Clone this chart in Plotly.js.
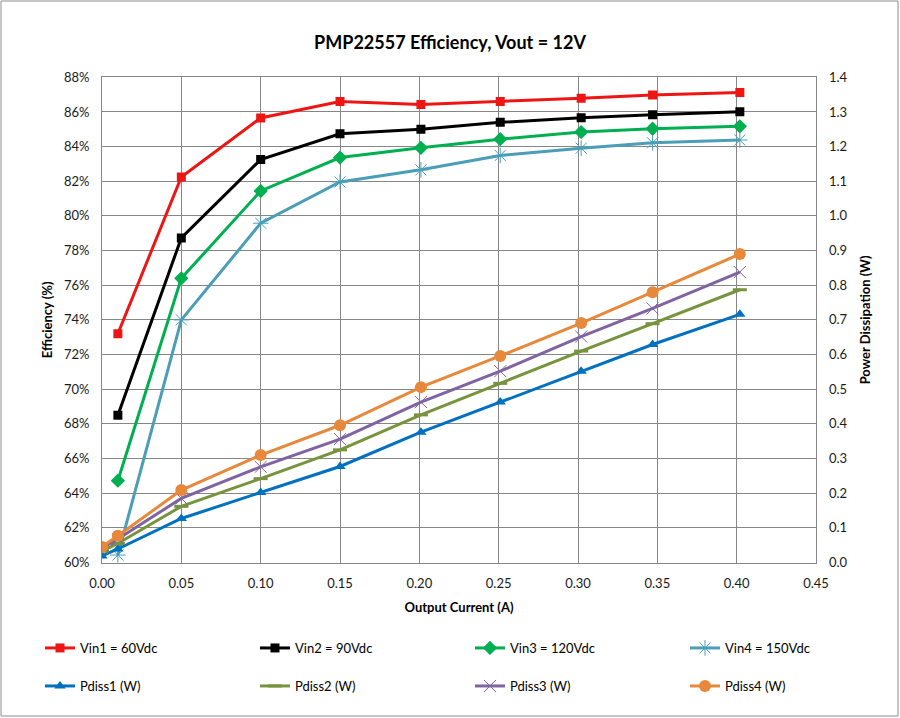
<!DOCTYPE html>
<html>
<head>
<meta charset="utf-8">
<script src="https://cdn.plot.ly/plotly-3.0.1.min.js"></script>
<style>
html,body{margin:0;padding:0;background:#fff;}
#chart{width:900px;height:718px;}
</style>
</head>
<body>
<div id="chart"></div>
<script>
// ---- data ----
var currentEff = [0.01, 0.05, 0.10, 0.15, 0.201, 0.251, 0.302, 0.347, 0.402];
var currentPd  = [0.0, 0.01, 0.05, 0.10, 0.15, 0.201, 0.251, 0.302, 0.347, 0.402];

var vin1Eff = [73.2, 82.25, 85.65, 86.6, 86.43, 86.6, 86.79, 86.98, 87.13];
var vin2Eff = [68.5, 78.73, 83.25, 84.74, 85.0, 85.4, 85.66, 85.84, 86.01];
var vin3Eff = [64.72, 76.4, 81.44, 83.37, 83.93, 84.43, 84.84, 85.03, 85.17];
var vin4Eff = [60.43, 74.0, 79.58, 81.96, 82.66, 83.49, 83.91, 84.22, 84.38];

var pdiss1 = [0.019, 0.039, 0.127, 0.202, 0.277, 0.376, 0.463, 0.552, 0.629, 0.716];
var pdiss2 = [0.033, 0.055, 0.162, 0.242, 0.325, 0.426, 0.517, 0.610, 0.689, 0.787];
var pdiss3 = [0.041, 0.068, 0.185, 0.276, 0.356, 0.463, 0.552, 0.652, 0.733, 0.838];
var pdiss4 = [0.045, 0.077, 0.209, 0.310, 0.396, 0.506, 0.596, 0.691, 0.780, 0.890];

var effNames = ['Vin1 = 60Vdc', 'Vin2 = 90Vdc', 'Vin3 = 120Vdc', 'Vin4 = 150Vdc'];
var pdNames  = ['Pdiss1 (W)', 'Pdiss2 (W)', 'Pdiss3 (W)', 'Pdiss4 (W)'];

var xTickVals = [0, 0.05, 0.10, 0.15, 0.20, 0.25, 0.30, 0.35, 0.40, 0.45];
var yTickVals = [60, 62, 64, 66, 68, 70, 72, 74, 76, 78, 80, 82, 84, 86, 88];
var yTickText = ['60%', '62%', '64%', '66%', '68%', '70%', '72%', '74%', '76%', '78%', '80%', '82%', '84%', '86%', '88%'];
var y2TickVals = [0, 0.1, 0.2, 0.3, 0.4, 0.5, 0.6, 0.7, 0.8, 0.9, 1.0, 1.1, 1.2, 1.3, 1.4];

// ---- styles ----
var FONT = 'Lato, "Liberation Sans", sans-serif';
var effStyles = [
  {color:'#EE1515', symbol:'square', size:9, lw:0},
  {color:'#000000', symbol:'square', size:9, lw:0},
  {color:'#00B050', symbol:'diamond', size:11, lw:0},
  {color:'#4A9EB8', symbol:'asterisk-open', size:13, lw:1}
];
var pdStyles = [
  {color:'#0070C0', symbol:'triangle-up', size:10, lw:0},
  {color:'#77933C', symbol:'line-ew-open', size:10, lw:3},
  {color:'#8064A2', symbol:'x-thin-open', size:12, lw:1},
  {color:'#E8883A', symbol:'circle', size:12, lw:0}
];

function mk(x, y, name, st, yaxis, legend) {
  return {
    type:'scatter', mode:'lines+markers', x:x, y:y, name:name,
    yaxis:yaxis, legend:legend,
    line:{color:st.color, width:3},
    marker:{color:st.color, symbol:st.symbol, size:st.size, line:{color:st.color, width:st.lw}},
    hoverinfo:'x+y+name'
  };
}

var effSeries = [vin1Eff, vin2Eff, vin3Eff, vin4Eff];
var pdSeries = [pdiss1, pdiss2, pdiss3, pdiss4];
var traces = [];
for (var i = 0; i < 4; i++) traces.push(mk(currentEff, effSeries[i], effNames[i], effStyles[i], 'y', 'legend'));
for (var j = 0; j < 4; j++) traces.push(mk(currentPd, pdSeries[j], pdNames[j], pdStyles[j], 'y2', 'legend2'));

var W = 900, H = 718;
var plotL = 102, plotR = 816, plotT = 77.3, plotB = 562.5;
var gridCol = '#868686';
var tickFont = {family:FONT, size:13, color:'#1a1a1a'};
var axTitleFont = {family:FONT, size:13, color:'#000', weight:'bold'};

var layout = {
  width:W, height:H,
  margin:{l:0, r:0, t:0, b:0},
  paper_bgcolor:'#fff', plot_bgcolor:'#fff',
  showlegend:true,
  title:{
    text:'<b>PMP22557 Efficiency, Vout = 12V</b>',
    font:{family:FONT, size:18, color:'#000'},
    x:0.5, xanchor:'center', xref:'paper',
    y:1 - 43/H, yanchor:'middle', yref:'paper'
  },
  xaxis:{
    domain:[plotL/W, plotR/W],
    range:[0, 0.45], tickvals:xTickVals, tickformat:'.2f',
    showgrid:true, gridcolor:gridCol, gridwidth:1,
    showline:true, linecolor:gridCol, linewidth:1, mirror:true,
    zeroline:false, ticks:'', ticklabelstandoff:9,
    tickfont:tickFont,
    title:{text:'Output Current (A)', font:axTitleFont, standoff:12}
  },
  yaxis:{
    domain:[1 - plotB/H, 1 - plotT/H],
    range:[60, 88], tickvals:yTickVals, ticktext:yTickText,
    showgrid:true, gridcolor:gridCol, gridwidth:1,
    showline:true, linecolor:gridCol, linewidth:1, mirror:true,
    zeroline:false, ticks:'', ticklabelstandoff:9,
    tickfont:tickFont,
    title:{text:'Efficiency (%)', font:axTitleFont, standoff:8}
  },
  yaxis2:{
    overlaying:'y', side:'right', anchor:'x',
    range:[0, 1.4], tickvals:y2TickVals, tickformat:'.1f',
    showgrid:false, zeroline:false, showline:false, ticks:'', ticklabelstandoff:12,
    tickfont:tickFont,
    title:{text:'Power Dissipation (W)', font:axTitleFont, standoff:14}
  },
  legend:{
    orientation:'h', x:55/W, xanchor:'left', y:1 - 633/H, yanchor:'top',
    entrywidth:170, entrywidthmode:'pixels', itemwidth:30,
    font:{family:FONT, size:13, color:'#000'}, bgcolor:'rgba(0,0,0,0)', traceorder:'normal'
  },
  legend2:{
    orientation:'h', x:55/W, xanchor:'left', y:1 - 671/H, yanchor:'top',
    entrywidth:170, entrywidthmode:'pixels', itemwidth:30,
    font:{family:FONT, size:13, color:'#000'}, bgcolor:'rgba(0,0,0,0)', traceorder:'normal'
  },
  shapes:[{
    type:'rect', xref:'paper', yref:'paper',
    x0:1/W, x1:1 - 2/W, y0:2/H, y1:1 - 1/H,
    line:{color:'#8c8c8c', width:1}, fillcolor:'rgba(0,0,0,0)', layer:'below'
  }]
};

Plotly.newPlot('chart', traces, layout, {displayModeBar:false, staticPlot:true});
</script>
</body>
</html>
